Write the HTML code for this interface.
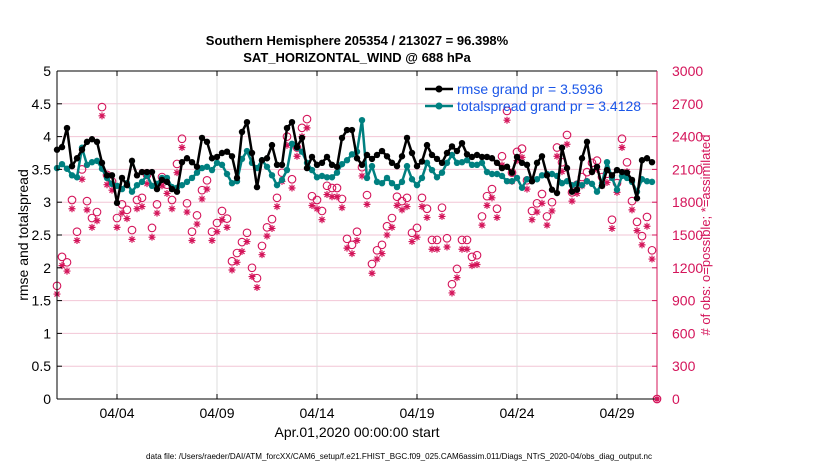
<!DOCTYPE html>
<html><head><meta charset="utf-8"><style>
body{margin:0;background:#fff;}
svg{display:block;font-family:"Liberation Sans",sans-serif;}
</style></head><body>
<svg id="chart" width="830" height="470" xmlns="http://www.w3.org/2000/svg">
<rect width="830" height="470" fill="#fff"/>
<g id="grid"></g><g id="marks"></g><g id="axes"></g>
<text x="357" y="45" text-anchor="middle" font-size="13" font-weight="bold">Southern Hemisphere 205354 / 213027 = 96.398%</text>
<text x="357" y="62" text-anchor="middle" font-size="13" font-weight="bold">SAT_HORIZONTAL_WIND @ 688 hPa</text>
<text transform="translate(28,235) rotate(-90)" text-anchor="middle" font-size="14">rmse and totalspread</text>
<text transform="translate(710,235) rotate(-90)" text-anchor="middle" font-size="13" fill="#d4145a">#  of obs: o=possible; *=assimilated</text>
<text x="357" y="437" text-anchor="middle" font-size="14">Apr.01,2020 00:00:00 start</text>
<text x="399" y="459" text-anchor="middle" font-size="8.5" textLength="506" lengthAdjust="spacingAndGlyphs">data file: /Users/raeder/DAI/ATM_forcXX/CAM6_setup/f.e21.FHIST_BGC.f09_025.CAM6assim.011/Diags_NTrS_2020-04/obs_diag_output.nc</text>
<g>
<g>
<line x1="425" y1="89" x2="453" y2="89" stroke="#000" stroke-width="2.5"/><circle cx="439" cy="89" r="3.5" fill="#000"/>
<text x="457" y="94" font-size="14" fill="#1a56e8">rmse grand pr = 3.5936</text></g>
<g>
<line x1="425" y1="106" x2="453" y2="106" stroke="#008080" stroke-width="2.5"/><circle cx="439" cy="106" r="3.5" fill="#008080"/>
<text x="457" y="111" font-size="14" fill="#1a56e8">totalspread grand pr = 3.4128</text></g>
</g>
</svg>
<script>
const leftTicks=[0,0.5,1,1.5,2,2.5,3,3.5,4,4.5,5];
const rightTicks=[0,300,600,900,1200,1500,1800,2100,2400,2700,3000];
const xTickDays=[3,8,13,18,23,28];
const xTickLabels=["04/04","04/09","04/14","04/19","04/24","04/29"];
const stepDays=0.25;
const rmse=[3.80,3.84,4.13,3.55,3.67,3.80,3.92,3.96,3.92,3.60,3.41,3.41,2.99,3.37,3.26,3.63,3.41,3.46,3.46,3.46,3.20,3.34,3.31,3.20,3.16,3.61,3.67,3.61,3.54,3.98,3.92,3.67,3.69,3.75,3.77,3.70,3.37,4.07,4.22,3.75,3.23,3.64,3.67,3.87,3.57,3.57,4.13,4.22,3.84,3.98,3.52,3.69,3.57,3.60,3.69,3.57,3.54,3.98,4.10,4.10,3.67,3.57,3.72,3.66,3.72,3.78,3.70,3.60,3.55,3.70,3.98,3.75,3.55,3.62,3.87,3.72,3.66,3.60,3.75,3.85,3.78,3.90,3.73,3.69,3.72,3.69,3.69,3.67,3.60,3.52,3.54,3.45,3.69,3.60,3.57,3.32,3.60,3.70,3.41,3.19,3.14,3.83,3.52,3.16,3.19,3.67,3.92,3.46,3.54,3.25,3.49,3.41,3.49,3.46,3.45,3.34,3.06,3.64,3.67,3.61];
const spread=[3.52,3.58,3.51,3.41,3.38,3.83,3.57,3.61,3.63,3.51,3.37,3.28,3.25,3.20,3.29,3.16,3.26,3.31,3.41,3.25,3.28,3.37,3.37,3.23,3.22,3.26,3.31,3.37,3.45,3.52,3.54,3.49,3.60,3.57,3.43,3.29,3.32,3.66,3.78,3.60,3.52,3.64,3.54,3.41,3.26,3.34,3.49,3.89,3.83,3.77,3.60,3.49,3.38,3.40,3.38,3.38,3.45,3.58,3.64,3.73,3.77,4.25,3.37,3.55,3.31,3.29,3.37,3.29,3.23,3.31,3.55,3.35,3.26,3.37,3.60,3.49,3.38,3.45,3.60,3.72,3.60,3.61,3.64,3.57,3.57,3.60,3.46,3.43,3.43,3.40,3.32,3.32,3.37,3.22,3.35,3.32,3.35,3.41,3.43,3.43,3.40,3.29,3.32,3.26,3.28,3.26,3.32,3.28,3.16,3.29,3.61,3.37,3.19,3.40,3.37,3.31,3.16,3.35,3.32,3.31];
const possible=[1035,1300,1250,1820,1530,2100,1810,1655,1710,2670,2050,1990,1655,1780,1730,1545,1820,1840,2050,1565,1780,2030,1960,1820,2150,2380,1790,1530,1680,1910,2000,1530,1610,1720,1650,1260,1335,1435,1520,1200,1105,1400,1570,1645,1840,2070,2400,2010,2300,2480,2560,1855,1820,1720,1950,1930,1930,1830,1465,1410,1530,2120,1865,1235,1360,1410,1580,1655,1850,1810,1840,1520,1565,1840,1740,1455,1455,1750,1470,1050,1190,1455,1455,1300,1315,1670,1855,1920,1740,2220,2635,2070,2260,2290,2000,1720,1790,1875,1670,1800,2300,2165,2415,1890,1960,2030,2075,2160,2180,2030,2060,1640,1975,2380,2165,1810,1620,1490,1665,1360,0];
const assimilated=[960,1220,1170,1740,1450,2010,1730,1570,1630,2590,1960,1910,1570,1700,1650,1460,1740,1760,1970,1480,1700,1950,1880,1740,2070,2300,1710,1450,1600,1830,1920,1450,1530,1640,1570,1180,1250,1350,1440,1120,1020,1320,1490,1560,1760,1990,2320,1930,2220,2400,2480,1770,1740,1640,1870,1850,1850,1750,1380,1330,1450,2040,1780,1150,1280,1330,1500,1570,1770,1730,1760,1440,1480,1760,1660,1370,1370,1670,1390,970,1110,1370,1370,1220,1230,1590,1770,1840,1660,2140,2550,1990,2180,2210,1920,1640,1710,1790,1590,1720,2220,2080,2330,1810,1880,1950,1990,2080,2100,1950,1980,1560,1890,2300,2080,1730,1540,1410,1580,1280,0];

const X0=57,X1=657,Y0=399,Y1=71,DAYS=30;
const xs=d=>X0+d*(X1-X0)/DAYS;
const yL=v=>Y0-v*(Y0-Y1)/5;
const yR=c=>Y0-c*(Y0-Y1)/3000;
const NS="http://www.w3.org/2000/svg";
function mk(tag,attrs,parent){const e=document.createElementNS(NS,tag);for(const k in attrs)e.setAttribute(k,attrs[k]);parent.appendChild(e);return e;}
const grid=document.getElementById('grid'),marks=document.getElementById('marks'),axes=document.getElementById('axes');
const RED="#d4145a";

rightTicks.forEach(t=>{const y=yR(t);
 const g=mk('line',{x1:X0,x2:X1,y1:y,y2:y,stroke:"#f2c6d6","stroke-width":1},grid);
 
 
 const tk=mk('line',{x1:X1-5,x2:X1,y1:y,y2:y,stroke:RED},axes);
 
 
 const lb=mk('text',{x:X1+15,y:y+5,"font-size":14,fill:RED},axes);lb.textContent=t;
 
 
});
xTickDays.forEach((d,i)=>{const x=xs(d);
 const g=mk('line',{x1:x,x2:x,y1:Y1,y2:Y0,stroke:"#dcdcdc","stroke-width":1},grid);
 
 
 mk('line',{x1:x,x2:x,y1:Y0,y2:Y0-5,stroke:"#000"},axes);
 mk('line',{x1:x,x2:x,y1:Y1,y2:Y1+5,stroke:"#000"},axes);
 const lb=mk('text',{x:x,y:Y0+19,"font-size":14,"text-anchor":"middle"},axes);lb.textContent=xTickLabels[i];
 
 
});
leftTicks.forEach(t=>{const y=yL(t);
 const tk=mk('line',{x1:X0,x2:X0+5,y1:y,y2:y,stroke:"#000"},axes);
 
 
 const lb=mk('text',{x:X0-6,y:y+5,"font-size":14,"text-anchor":"end"},axes);lb.textContent=String(t);
 
 
});
const ax1=mk('line',{x1:X0,x2:X0,y1:Y1,y2:Y0,stroke:"#000"},axes);


const ax2=mk('line',{x1:X0,x2:X1,y1:Y0,y2:Y0,stroke:"#000"},axes);


const ax3=mk('line',{x1:X0,x2:X1,y1:Y1,y2:Y1,stroke:"#000"},axes);


const ax4=mk('line',{x1:X1,x2:X1,y1:Y1,y2:Y0,stroke:RED},axes);



possible.forEach((c,i)=>{const x=xs(i*stepDays),y=yR(c);
 const e=mk('circle',{cx:x,cy:y,r:3.8,fill:"none",stroke:RED,"stroke-width":1.1},marks);
 
 
});
assimilated.forEach((c,i)=>{const x=xs(i*stepDays),y=yR(c),s=3.5,d=2.5;
 const g=mk('path',{d:`M${x-s},${y}H${x+s}M${x},${y-s}V${y+s}M${x-d},${y-d}L${x+d},${y+d}M${x-d},${y+d}L${x+d},${y-d}`,stroke:RED,"stroke-width":1.2,fill:"none"},marks);
 
 
});
function series(arr,color,name){
 const pts=arr.map((v,i)=>xs(i*stepDays)+","+yL(v)).join(" ");
 const pl=mk('polyline',{points:pts,fill:"none",stroke:color,"stroke-width":2.5,"stroke-linejoin":"round"},marks);
 
 
 arr.forEach((v,i)=>{const c=mk('circle',{cx:xs(i*stepDays),cy:yL(v),r:3.2,fill:color},marks);
  
  
 });
}
series(spread,"#008080","totalspread");
series(rmse,"#000","rmse");
const z=mk('circle',{cx:X1,cy:Y0,r:2,fill:RED},axes);


</script>
</body></html>
